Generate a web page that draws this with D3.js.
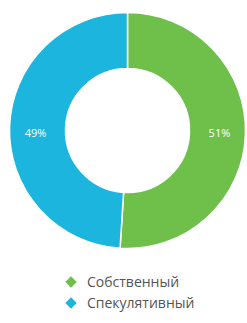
<!DOCTYPE html>
<html><head><meta charset="utf-8">
<script src="https://cdn.jsdelivr.net/npm/d3@7"></script>
<style>html,body{margin:0;padding:0;background:#fff;}svg{display:block;}</style>
</head><body>
<script>
const categories = ["Собственный", "Спекулятивный"];
const values = [51, 49];
const colors = ["#6fbf4b", "#1cb5dd"];

const W = 247, H = 323;
const svg = d3.select("body").append("svg").attr("width", W).attr("height", H);
const cx = 127.5, cy = 130.5, R = 118, r = 62;
const g = svg.append("g").attr("transform", `translate(${cx},${cy})`);
const pie = d3.pie().sort(null).value(d => d)(values);
const arc = d3.arc().innerRadius(r).outerRadius(R);
g.selectAll("path").data(pie).join("path")
  .attr("d", arc).attr("fill", (d,i) => colors[i])
  .attr("stroke", "#fff").attr("stroke-width", 1.5);
const labelArc = d3.arc().innerRadius((r+R)/2 + 2).outerRadius((r+R)/2 + 2);
g.selectAll("text").data(pie).join("text")
  .attr("transform", d => `translate(${labelArc.centroid(d)[0]},3)`)
  .attr("text-anchor", "middle").attr("dy", "0.35em")
  .attr("fill", "#fff").attr("font-family", "Open Sans, sans-serif").attr("font-size", 11)
  .text(d => d.data + "%");

const lg = svg.append("g");
categories.forEach((c, i) => {
  const y = 282 + i * 21;
  lg.append("rect").attr("x", -4).attr("y", -4).attr("width", 8).attr("height", 8)
    .attr("fill", colors[i]).attr("transform", `translate(71,${y}) rotate(45)`);
  lg.append("text").attr("x", 87).attr("y", y).attr("dy", "0.35em")
    .attr("fill", "#555").attr("font-family", "Open Sans, sans-serif").attr("font-size", 14)
    .text(c);
});
</script>
</body></html>
